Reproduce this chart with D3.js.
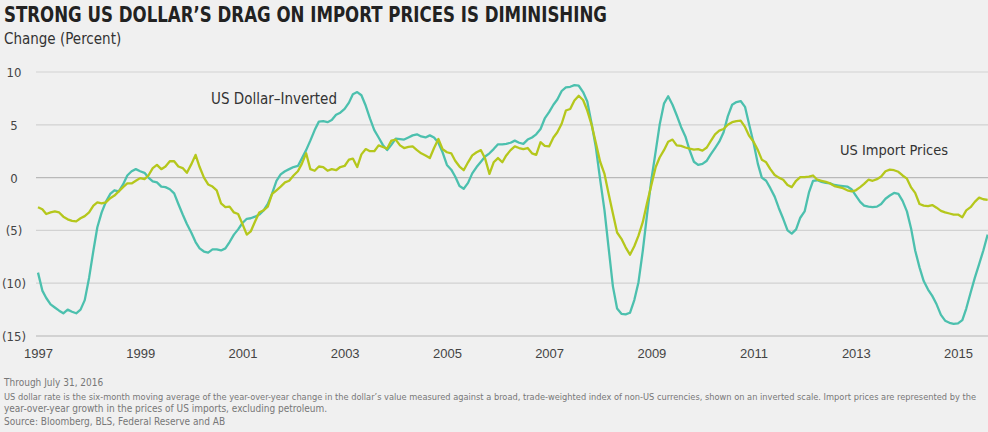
<!DOCTYPE html>
<html>
<head>
<meta charset="utf-8">
<script src="https://cdn.jsdelivr.net/npm/d3@7"></script>
<style>
  body { margin: 0; background: #f0f0f0; }
  svg { display: block; font-family: "Liberation Sans Narrow", "DejaVu Sans Condensed", "Roboto", sans-serif; }
</style>
</head>
<body>
<svg id="chart"></svg>
<script>
// monthly series, first value = Jan 1997
const startMonth = new Date(1997, 0, 1);

const dollarInverted = [
  -9.0, -10.7, -11.4, -12.0, -12.3, -12.6, -12.85, -12.5, -12.7, -12.85, -12.5, -11.6,
  -9.5, -6.9, -4.7, -3.3, -2.3, -1.55, -1.2, -1.3, -0.65, 0.2, 0.6, 0.8,
  0.6, 0.45, 0.0, -0.35, -0.45, -0.85, -0.9, -1.1, -1.5, -2.5, -3.5, -4.4,
  -5.2, -6.1, -6.7, -7.0, -7.1, -6.8, -6.8, -6.9, -6.7, -6.1, -5.4, -4.9,
  -4.3, -3.9, -3.85, -3.7, -3.5, -3.1, -2.5, -1.5, -0.3, 0.3, 0.6, 0.8,
  1.0, 1.1, 1.8, 2.6, 3.5, 4.5, 5.3, 5.35, 5.25, 5.45, 5.95, 6.15,
  6.5, 7.1, 7.9, 8.1, 7.8, 6.8, 5.6, 4.5, 3.8, 3.1, 2.6, 3.1,
  3.7, 3.65, 3.6, 3.8, 4.0, 4.1, 3.9, 3.8, 4.0, 3.8, 3.3, 2.4,
  1.2, 0.75, 0.1, -0.8, -1.05, -0.5, 0.4, 1.0, 1.5, 2.0, 2.3, 2.7,
  3.15, 3.15, 3.2, 3.3, 3.5, 3.3, 3.2, 3.6, 3.8, 4.1, 4.6, 5.6,
  6.2, 6.9, 7.4, 8.2, 8.55, 8.6, 8.75, 8.7, 8.1, 7.2, 5.1, 2.9,
  -0.2, -3.1, -6.6, -10.3, -12.4, -12.9, -12.95, -12.8, -11.6, -9.9, -6.9, -3.5,
  -0.2, 2.5, 5.0, 7.0, 7.7, 6.9, 5.9, 4.8, 3.9, 2.6, 1.5, 1.2,
  1.3, 1.6, 2.2, 2.8, 3.4, 4.3, 5.8, 6.9, 7.15, 7.25, 6.7, 5.0,
  3.3, 1.3, 0.0, -0.3, -1.0, -1.8, -2.9, -3.9, -5.0, -5.3, -4.9, -3.8,
  -3.2, -1.4, -0.3, -0.25, -0.4, -0.5, -0.55, -0.7, -0.75, -0.8, -0.85, -1.1,
  -1.7, -2.3, -2.65, -2.75, -2.8, -2.75, -2.5, -2.0, -1.7, -1.45, -1.55, -2.2,
  -3.2, -4.9, -6.9, -8.5, -9.8, -10.6, -11.2, -12.0, -13.0, -13.55, -13.75, -13.85,
  -13.8, -13.5, -12.4, -10.9, -9.5, -8.2, -6.9, -5.4
];

const importPrices = [
  -2.8, -3.0, -3.45, -3.3, -3.2, -3.3, -3.7, -3.95, -4.1, -4.15, -3.85, -3.65,
  -3.3, -2.65, -2.35, -2.45, -2.35, -1.95, -1.7, -1.3, -0.9, -0.55, -0.55, -0.3,
  -0.05, -0.15, 0.2, 0.9, 1.2, 0.8, 1.05, 1.55, 1.55, 1.05, 0.9, 0.45,
  1.25, 2.15, 1.0, 0.0, -0.65, -0.85, -1.2, -2.45, -2.8, -2.75, -3.3, -3.45,
  -4.4, -5.4, -5.1, -4.15, -3.3, -3.1, -2.75, -1.55, -1.2, -0.85, -0.45, -0.3,
  0.2, 0.6, 1.3, 2.3, 0.8, 0.65, 1.05, 1.0, 0.65, 0.8, 0.7, 1.0,
  1.1, 1.7, 1.8, 1.0, 2.2, 2.7, 2.5, 2.5, 3.05, 2.9, 2.75, 3.5,
  3.6, 3.05, 2.8, 2.9, 2.95, 2.6, 2.3, 2.1, 1.85, 2.8, 3.65, 2.7,
  2.4, 2.3, 1.6, 1.05, 0.7, 1.45, 2.1, 2.4, 2.6, 1.8, 0.35, 1.45,
  1.85, 1.45, 2.1, 2.6, 2.95, 2.8, 2.7, 2.8, 2.3, 2.15, 3.35, 3.0,
  2.95, 3.8, 4.3, 5.1, 6.35, 6.5, 7.3, 7.75, 7.35, 6.35, 5.0, 3.3,
  1.5, 0.35, -1.5, -3.4, -5.2, -5.8, -6.6, -7.3, -6.5, -5.5, -4.2, -2.4,
  -0.7, 1.0, 1.9, 2.6, 3.4, 3.6, 3.05, 3.0, 2.85, 2.75, 2.65, 2.7,
  2.55, 2.85, 3.45, 4.1, 4.45, 4.6, 5.0, 5.25, 5.35, 5.4, 4.8, 3.95,
  3.4, 2.6, 1.7, 1.45, 0.8, 0.25, 0.0, -0.2, -0.7, -0.9, -0.3, 0.05,
  0.05, 0.1, 0.2, -0.2, -0.3, -0.4, -0.55, -0.8, -0.9, -1.0, -1.2, -1.3,
  -1.2, -0.9, -0.6, -0.2, -0.3, -0.15, 0.1, 0.6, 0.75, 0.7, 0.55, 0.2,
  -0.1, -0.95, -1.45, -2.5, -2.65, -2.7, -2.6, -2.85, -3.15, -3.3, -3.4, -3.5,
  -3.5, -3.75, -3.1, -2.8, -2.3, -1.9, -2.05, -2.1
];

const yearTicks = [1997, 1999, 2001, 2003, 2005, 2007, 2009, 2011, 2013, 2015];
const valueTicks = [10, 5, 0, -5, -10, -15];

const notes = [
  "Through July 31, 2016",
  "US dollar rate is the six-month moving average of the year-over-year change in the dollar\u2019s value measured against a broad, trade-weighted index of non-US currencies, shown on an inverted scale. Import prices are represented by the",
  "year-over-year growth in the prices of US imports, excluding petroleum.",
  "Source: Bloomberg, BLS, Federal Reserve and AB"
];

const width = 988, height = 432;

const svg = d3.select("#chart")
    .attr("width", width)
    .attr("height", height);

svg.append("rect")
    .attr("width", width)
    .attr("height", height)
    .attr("fill", "#f0f0f0");

// title + unit
svg.append("text")
    .attr("x", 4)
    .attr("y", 22)
    .attr("font-weight", "bold")
    .attr("font-size", "21px")
    .attr("fill", "#222")
    .attr("textLength", 603)
    .attr("lengthAdjust", "spacingAndGlyphs")
    .text("STRONG US DOLLAR\u2019S DRAG ON IMPORT PRICES IS DIMINISHING");

svg.append("text")
    .attr("x", 4)
    .attr("y", 44)
    .attr("font-size", "15px")
    .attr("fill", "#333")
    .text("Change (Percent)");

// scales
const x = d3.scaleTime()
    .domain([new Date(1997, 0, 1), new Date(2015, 0, 1)])
    .range([38, 958]);

const y = d3.scaleLinear()
    .domain([-15, 10])
    .range([336, 72]);

const dates = dollarInverted.map((d, i) => d3.timeMonth.offset(startMonth, i));

// gridlines
svg.append("g")
    .selectAll("line")
    .data(valueTicks)
    .join("line")
      .attr("x1", 36)
      .attr("x2", width)
      .attr("y1", d => y(d))
      .attr("y2", d => y(d))
      .attr("stroke", d => d === 0 ? "#b9b9b9" : "#d2d2d2")
      .attr("stroke-width", d => d === -15 ? 2 : 1.2);

// y labels
svg.append("g")
    .selectAll("text")
    .data(valueTicks)
    .join("text")
      .attr("x", 14)
      .attr("y", d => y(d) + 5)
      .attr("text-anchor", "middle")
      .attr("font-size", "13px")
      .attr("fill", "#444")
      .text(d => d < 0 ? `(${-d})` : d);

// x axis
const xAxisG = svg.append("g")
    .attr("transform", "translate(0, 345)")
    .call(d3.axisBottom(x)
      .tickValues(yearTicks.map(yr => new Date(yr, 0, 1)))
      .tickFormat(d3.timeFormat("%Y"))
      .tickSize(0));

xAxisG.select(".domain").remove();
xAxisG.selectAll("text")
    .attr("font-family", "inherit")
    .attr("font-size", "13px")
    .attr("fill", "#444")
    .attr("dy", "0.75em");

// lines
const line = d3.line()
    .x((d, i) => x(dates[i]))
    .y(d => y(d));

svg.append("path")
    .datum(dollarInverted)
    .attr("fill", "none")
    .attr("stroke", "#4cc0ae")
    .attr("stroke-width", 2.3)
    .attr("stroke-linejoin", "round")
    .attr("d", line);

svg.append("path")
    .datum(importPrices)
    .attr("fill", "none")
    .attr("stroke", "#b5c71c")
    .attr("stroke-width", 2.3)
    .attr("stroke-linejoin", "round")
    .attr("d", line);

// series labels
svg.append("text")
    .attr("x", 211)
    .attr("y", 104)
    .attr("font-size", "15px")
    .attr("fill", "#333")
    .text("US Dollar\u2013Inverted");

svg.append("text")
    .attr("x", 840)
    .attr("y", 155)
    .attr("font-size", "14.5px")
    .attr("fill", "#333")
    .text("US Import Prices");

// footnotes
svg.append("g")
    .selectAll("text")
    .data(notes)
    .join("text")
      .attr("x", 4)
      .attr("y", (d, i) => [386, 400, 412, 425][i])
      .attr("font-size", (d, i) => i === 1 ? "9.3px" : "10px")
      .attr("fill", "#777")
      .attr("textLength", (d, i) => i === 1 ? 972 : null)
      .attr("lengthAdjust", "spacingAndGlyphs")
      .text(d => d);
</script>
</body>
</html>
